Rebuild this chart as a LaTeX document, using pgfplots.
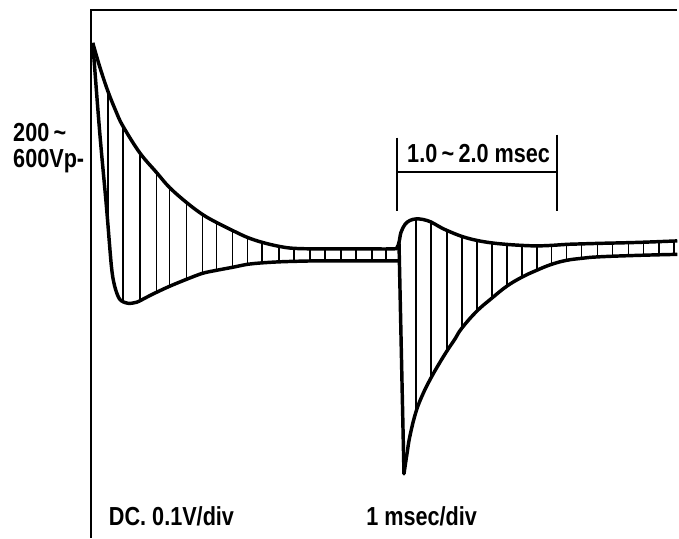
\documentclass[border=0pt]{standalone}
\usepackage{pgfplots}
\pgfplotsset{compat=1.18}
\usepackage{fontspec}
\setmainfont[FakeStretch=0.83]{Liberation Sans}
\begin{document}
\begin{tikzpicture}
\begin{axis}[scale only axis, width=509.25pt, height=404.25pt,
  xmin=0, xmax=679, ymin=0, ymax=539, y dir=reverse, hide axis, clip=false,
  unbounded coords=jump]
% extent
\addplot[draw=none] coordinates {(0,0) (679,539)};
% frame
\addplot[black, line width=1.5pt, line join=miter] coordinates {(91,539) (91,10) (679,10)};
% upper envelope
\addplot[black, line width=2.6pt, smooth, tension=0.6, line join=round] coordinates {
(93,43) (100,67) (108,91) (116,111) (123,126) (140,153) (157,173) (170,188) (187,203) (203,215) (217,223)
(233,231) (248,238) (263,243) (280,247) (295,249) (320,249.5) (360,249.5) (394,249.5)
(398,248) (400,243) (402,233) (406,225) (411,221) (417,219.5) (424,220) (432,222.5)
(440,227) (448,231) (463,237) (478,241) (493,243.5) (508,245) (523,246) (538,246.5)
(553,246) (568,245) (583,244.5) (600,244) (640,243) (679,241.5)};
% lower envelope left
\addplot[black, line width=2.6pt, smooth, tension=0.5, line join=round] coordinates {
(93,43) (100,133) (106.7,207) (111.7,267) (115,287) (120,300) (128,304) (137,303)
(147,298) (157,293) (170,287) (187,280) (203,274) (217,271) (233,268) (248,265)
(263,263.5) (280,262.5) (295,262) (320,261.5) (360,261.5) (400,261.5)};
% drop
\addplot[black, line width=2.6pt, line cap=round] coordinates {(400,243) (405,475)};
% lower envelope right
\addplot[black, line width=2.6pt, smooth, tension=0.7, line join=round] coordinates {
(405,475) (408,455) (411,437) (417,413) (424,395) (432,379) (440,365) (448,352)
(456,340) (463,329) (478,312) (493,299) (508,287) (523,278) (538,271)
(553,265) (568,261) (583,259) (600,257.5) (640,256) (679,255)};
% hatching left
\addplot[black, line width=1.3pt] coordinates {
(108,91) (108,226) (108,nan)
(123,126) (123,302) (123,nan)
(140,153) (140,301) (140,nan)
(157,173) (157,293) (157,nan)
(170,188) (170,287) (170,nan)
(187,203) (187,280) (187,nan)
(203,215) (203,274) (203,nan)
(217,223) (217,271) (217,nan)
(233,231) (233,268) (233,nan)
(248,238) (248,265) (248,nan)
(263,243) (263,263.5) (263,nan)
(280,247) (280,262.5) (280,nan)
(295,249) (295,262) (295,nan)
(311,249.5) (311,261.5) (311,nan)
(326,249.5) (326,261.5) (326,nan)
(342,249.5) (342,261.5) (342,nan)
(357,249.5) (357,261.5) (357,nan)
(373,249.5) (373,261.5) (373,nan)
(387,249.5) (387,261.5)};
% hatching right
\addplot[black, line width=1.3pt] coordinates {
(417,219.5) (417,413) (417,nan)
(432,222.5) (432,379) (432,nan)
(448,231) (448,352) (448,nan)
(463,237) (463,329) (463,nan)
(478,241) (478,312) (478,nan)
(493,243.5) (493,299) (493,nan)
(508,245) (508,287) (508,nan)
(523,246) (523,278) (523,nan)
(538,246.5) (538,271) (538,nan)
(553,246) (553,265) (553,nan)
(568,245) (568,261) (568,nan)
(583,244.5) (583,259) (583,nan)
(599,244) (599,257.5) (599,nan)
(614,243.7) (614,257) (614,nan)
(630,243.2) (630,256.5) (630,nan)
(645,243) (645,256) (645,nan)
(661,242.3) (661,255.5) (661,nan)
(676,241.7) (676,255)};
% bracket
\addplot[black, line width=1.5pt] coordinates {
(398,138) (398,212) (398,nan)
(558,135) (558,212) (558,nan)
(398,172) (558,172)};
% texts
\node[anchor=base west, inner sep=0pt, font=\fontsize{19.6}{22}\selectfont\bfseries] at (axis cs:13,142) {200\,\textasciitilde};
\node[anchor=base west, inner sep=0pt, font=\fontsize{19.6}{22}\selectfont\bfseries] at (axis cs:13,168) {600Vp-};
\node[anchor=base west, inner sep=0pt, font=\fontsize{19.6}{22}\selectfont\bfseries] at (axis cs:408,163) {1.0\,\textasciitilde\,2.0 msec};
\node[anchor=base west, inner sep=0pt, font=\fontsize{19.6}{22}\selectfont\bfseries] at (axis cs:109,527) {DC. 0.1V/div};
\node[anchor=base west, inner sep=0pt, font=\fontsize{19.6}{22}\selectfont\bfseries] at (axis cs:367,527) {1 msec/div};
\end{axis}
\end{tikzpicture}
\end{document}
